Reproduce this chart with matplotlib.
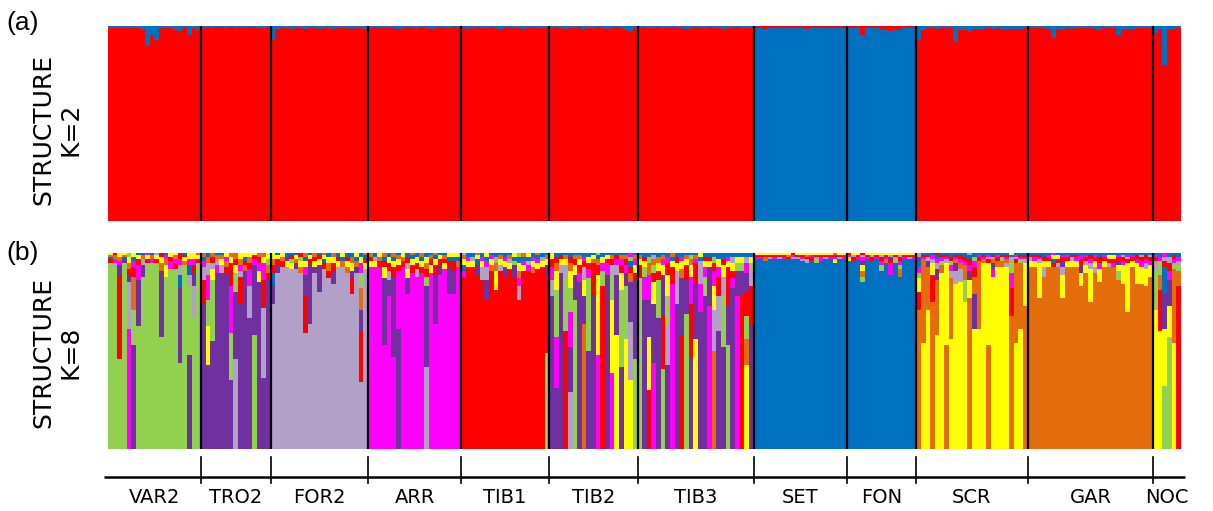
import re

from matplotlib import pyplot as plt
import numpy as np


# cluster codes for K=8 and their colours
CODES = "gplmrboy"
COLORS_K8 = {
    "g": "#92D050",
    "p": "#7030A0",
    "l": "#B1A0C7",
    "m": "#FF00FF",
    "r": "#FF0000",
    "b": "#0070C0",
    "o": "#E46C0A",
    "y": "#FFFF00",
}
RED = "#FF0000"
BLUE = "#0070C0"

POPS = ["VAR2", "TRO2", "FOR2", "ARR", "TIB1", "TIB2", "TIB3",
        "SET", "FON", "SCR", "GAR", "NOC"]

# K=2: share of the blue cluster per individual
k2_var2 = [0.01, 0.01, 0.01, 0.01, 0.01, 0.01, 0.01, 0.02, 0.105, 0.045,
           0.07, 0.01, 0.01, 0.01, 0.02, 0.025, 0.01, 0.045, 0.01, 0.02]
k2_tro2 = [0.01, 0.005, 0.01, 0.005, 0.005, 0.01, 0.005, 0.01, 0.005, 0.01,
           0.005, 0.005, 0.01, 0.01, 0.005]
k2_for2 = [0.07, 0.015, 0.01, 0.01, 0.015, 0.01, 0.01, 0.015, 0.01, 0.01,
           0.015, 0.01, 0.01, 0.015, 0.01, 0.01, 0.01, 0.015, 0.01, 0.01, 0.015]
k2_arr = [0.01, 0.005, 0.01, 0.01, 0.005, 0.01, 0.015, 0.01, 0.005, 0.01,
          0.01, 0.005, 0.01, 0.015, 0.01, 0.005, 0.01, 0.01, 0.005, 0.01]
k2_tib1 = [0.01, 0.015, 0.01, 0.005, 0.01, 0.01, 0.005, 0.01, 0.015, 0.01,
           0.005, 0.01, 0.01, 0.015, 0.01, 0.005, 0.01, 0.01, 0.01]
k2_tib2 = [0.01, 0.005, 0.01, 0.015, 0.01, 0.01, 0.005, 0.015, 0.01, 0.01,
           0.005, 0.01, 0.015, 0.01, 0.005, 0.01, 0.02, 0.03, 0.01]
k2_tib3 = [0.01, 0.005, 0.01, 0.01, 0.005, 0.01, 0.01, 0.005, 0.01, 0.01,
           0.015, 0.01, 0.005, 0.01, 0.01, 0.005, 0.01, 0.01, 0.015, 0.01,
           0.01, 0.005, 0.01, 0.01, 0.01]
k2_set = [0.99, 0.99, 0.985, 0.99, 0.99, 0.99, 0.99, 0.99, 0.99, 0.99,
          0.99, 0.985, 0.99, 0.99, 0.99, 0.99, 0.99, 0.99, 0.99, 0.99]
k2_fon = [0.99, 0.99, 0.99, 0.955, 0.99, 0.99, 0.99, 0.98, 0.98, 0.975,
          0.98, 0.98, 0.99, 0.99, 0.99]
k2_scr = [0.07, 0.02, 0.01, 0.01, 0.015, 0.01, 0.01, 0.01, 0.08, 0.02,
          0.02, 0.03, 0.015, 0.015, 0.015, 0.01, 0.015, 0.01, 0.02, 0.015,
          0.015, 0.015, 0.015, 0.01]
k2_gar = [0.01, 0.01, 0.01, 0.01, 0.015, 0.06, 0.015, 0.02, 0.01, 0.015,
          0.01, 0.01, 0.01, 0.01, 0.015, 0.02, 0.01, 0.01, 0.01, 0.045,
          0.02, 0.015, 0.015, 0.01, 0.01, 0.01, 0.01]
k2_noc = [0.035, 0.015, 0.2, 0.02, 0.015, 0.01]

# K=8: per individual, cluster code + percent
k8_var2 = [
    "g95 r2 o1 y1 b1", "g93 l2 m2 o2 r1", "g46 r43 p5 m2 o2 y2",
    "g95 p2 y1 o1 b1", "m61 l24 p4 y3 o3 r3 g2", "p53 g18 o17 r5 m3 y2 b2",
    "g63 p23 m8 r3 y2 b1", "g88 p6 l3 o2 b1", "g95 r2 y2 m1",
    "g95 m2 o2 b1", "g95 r2 y2 l1", "g57 p34 o4 y3 r2",
    "g88 y6 o3 m2 b1", "g92 m4 r2 y2", "g92 r3 m2 o2 y1",
    "g44 p38 b7 l5 r3 m3", "g94 y2 o2 r1 b1", "p48 g35 l6 b5 m3 y3",
    "g67 l16 p7 r4 m3 y3", "g95 r2 y2 o1",
]
k8_tro2 = [
    "p74 r12 l7 m3 o2 b2", "p43 y20 m13 g13 l6 o3 b2", "p55 g31 y6 l3 r3 o2",
    "p90 m4 l3 o2 b1", "p90 l4 y3 o2 b1", "p90 r3 o3 m2 y2",
    "p35 m24 g24 r12 y3 o2", "l46 p34 g10 y4 r3 o3", "p74 r14 o3 l3 y3 m3",
    "p91 o3 r2 y2 b2", "p67 l16 m9 r3 o3 y2", "g58 p36 m3 r2 y1",
    "p85 y6 m4 r3 o2", "p36 l36 r14 m9 y3 o2", "p86 o4 r4 y3 g3",
]
k8_for2 = [
    "l74 p9 b7 r4 o3 y3", "l90 p4 r3 y2 b1", "l93 r3 y2 o2",
    "l93 y3 p2 b2", "l92 y3 r2 g2 b1", "l92 p3 y2 o2 b1",
    "l90 o3 y3 r2 g2", "l59 r19 p11 m4 y3 o2 b2", "l64 p31 r2 y2 b1",
    "l90 p3 y3 r2 o2", "l80 p14 y3 r2 b1", "l92 r3 y2 b2 o1",
    "l87 o4 r4 y3 b2", "l84 p7 r4 y3 o2", "l93 y3 r2 b2",
    "l93 o3 y2 b2", "l90 o3 y3 r2 b2", "l79 r8 p4 y4 o3 b2",
    "l90 p3 o3 y2 b2", "l34 r26 p11 o11 g8 m5 y3 b2", "l92 y3 r2 b2 o1",
]
k8_arr = [
    "m93 y3 r2 o2", "m93 y3 l2 b2", "m93 r3 y2 o2",
    "m53 p34 y6 r3 o2 b2", "m78 p8 l5 r4 y3 b2", "m47 p41 r5 y3 o2 b2",
    "p61 m30 r3 y3 o2 b1", "m93 r3 y2 o2", "m79 p8 y5 l3 r3 b2",
    "m90 r4 y3 b2 o1", "m88 l4 r3 y3 b2", "m90 y3 r3 o2 b2",
    "l42 p41 g5 r4 y3 o3 b2", "m90 y4 r3 o2 b1", "m64 p25 r5 y3 b2 o1",
    "m89 p5 r3 y2 b1", "m92 y3 r2 o2 b1", "m79 p14 r3 y2 b2",
    "m79 p12 r5 y2 b2", "m93 o3 y2 b2",
]
k8_tib1 = [
    "r88 b3 m3 y3 o2 l1", "r93 y3 m2 b2", "r93 y3 l2 b2",
    "r89 p6 y2 b2 o1", "r86 l7 y3 m2 b2", "r76 p10 l7 m3 y2 b2",
    "r91 o3 y3 m2 b1", "r81 y10 o4 l3 b2", "r91 l3 y3 o2 b1",
    "r87 p6 y3 m2 b2", "r92 y3 l2 o2 b1", "r88 p6 g2 y2 b2",
    "r76 l7 o4 y4 m4 b3 g2", "r91 y3 m2 o2 b2", "r91 m3 y2 l2 b2",
    "r90 o3 y3 m2 b2", "r92 y3 m2 b2 o1", "r93 y3 l2 b2",
    "g49 r40 p5 y3 o2 b1",
]
k8_tib2 = [
    "p78 l8 m7 r4 y3", "p31 m26 g24 y10 o4 r3 b2", "p90 l4 y3 r2 b1",
    "r60 g27 l7 y3 o2 b1", "l29 p23 m18 g12 y9 o4 r3 b2", "g76 p13 y5 r3 o2 b1",
    "p85 m5 r4 y3 o2 b1", "o64 p14 y8 l7 r3 m2 b2", "p50 g37 m5 r3 y3 b2",
    "p78 r17 y2 o2 b1", "m48 y41 r5 o3 b2 g1", "r83 g8 m4 y3 b2",
    "p89 m6 y2 r2 b1", "m39 y37 g13 l5 r3 o2 b1", "y58 p31 l5 m3 r2 b1",
    "p42 g39 y9 r4 m3 o2 b1", "y56 g27 p7 m4 r3 o2 b1",
    "y35 l30 p20 o5 b3 r3 m2 g2", "g46 p40 y4 r4 m3 o2 b1",
]
k8_tib3 = [
    "g87 r7 y3 o2 b1", "p76 m12 g5 y3 r2 b2", "r30 y27 p19 m13 o6 g3 b2",
    "m44 p30 y11 r5 g4 o3 l2 b1", "p67 g19 r5 y4 o3 b2", "g41 r27 p21 y5 m3 o2 b1",
    "p43 l20 g15 y11 r6 m3 b2", "m84 r9 y3 o2 b2", "p74 l17 y4 r3 b2",
    "r58 p29 o5 y4 m2 b2", "g69 p17 r8 y3 o2 b1", "p47 r27 m14 y6 o3 g2 b1",
    "y56 p28 r11 o2 m2 b1", "p70 m14 l12 y2 b2", "p78 g10 m5 y3 r2 b2",
    "m73 p20 y3 r2 b2", "o50 l21 y12 m8 r4 g3 b2", "p60 l18 r10 m5 y4 b3",
    "p52 g26 l10 y6 r3 b3", "g53 r20 p20 y3 m2 b2", "p82 m5 y4 r4 l3 b2",
    "m78 p13 g4 y3 b2", "r78 p13 g4 y3 b2", "y43 o13 r12 g12 p10 m5 l3 b2",
    "p63 r20 l8 g4 y3 b2",
]
k8_set = [
    "b97 r1 y1 m1", "b97 m1 r1 y1", "b96 o2 r1 y1", "b97 r1 l1 y1",
    "b97 m1 y1 r1", "b97 r1 l1 y1", "b97 y1 r1 m1", "b97 r1 o1 y1",
    "b97 m1 r1 l1", "b97 r1 y1 l1", "b96 m1 r1 y1 l1", "b95 l2 o1 r1 y1",
    "b96 r2 m1 y1", "b95 g2 l1 r1 y1", "b96 m2 r1 y1", "b97 r1 y1 l1",
    "b97 y1 r1 m1", "b95 y2 o1 r1 m1", "b97 r1 l1 y1", "b97 r1 y1 m1",
]
k8_fon = [
    "b96 y2 r1 m1", "b96 r2 l1 y1", "b97 m1 r1 y1",
    "b85 y3 o3 g3 p2 m2 l1 r1", "b97 r1 y1 m1", "b96 r2 y1 l1",
    "b97 m1 r1 y1", "b91 g3 r2 m2 y1 l1", "b95 o2 r1 y1 m1",
    "b89 m6 r2 p1 y1 l1", "b95 g2 l1 r1 y1", "b88 o4 g2 m2 r2 y1 l1",
    "b97 r1 y1 m1", "b97 y1 r1 l1", "b97 r1 y1 m1",
]
k8_scr = [
    "o71 r9 y7 b3 g3 m3 l2 p2", "y54 o43 r1 m1 b1", "y71 o22 p3 l2 r1 b1",
    "o75 r14 y6 m2 l2 b1", "y58 o28 p6 l3 m2 b2 r1", "y90 o4 g2 m2 r1 b1",
    "o53 y42 l2 r1 b1 m1", "y56 o31 l4 m3 b2 r2 g2", "y84 l7 p4 o2 r1 m1 b1",
    "y85 l7 o3 r2 m2 b1", "y75 g11 o8 r2 m2 b2", "o77 y9 p5 m3 r3 b2 l1",
    "y61 p18 o9 r5 m3 g2 b2", "y61 o35 r2 m1 b1", "y95 o2 r1 m1 b1",
    "o53 y42 r2 m1 b1 l1", "y88 m4 p3 o2 r1 b1 l1", "y93 o3 r2 b1 m1",
    "y93 o3 g2 r1 b1", "y93 o2 l2 r1 m1 b1", "o68 r14 m8 g6 l2 b1 y1",
    "y54 o41 r2 m1 b1 l1", "y61 o34 g2 r1 m1 b1", "o73 y22 l2 r1 m1 b1",
]
k8_gar = [
    "o93 y3 l2 r1 b1", "o93 y3 m2 r1 b1", "o77 y18 l2 r1 m1 b1",
    "o88 l5 y3 r2 b2", "o93 y3 r2 m1 b1", "o93 b2 y2 r2 m1",
    "o93 r2 y2 l2 b1", "o77 y12 l4 p3 r2 m1 b1", "o93 y3 r2 m1 b1",
    "o93 y3 l2 r1 b1", "o93 y3 m2 r1 b1", "o83 y7 p4 r3 m2 b1",
    "o90 y4 r2 l2 m1 b1", "o75 y17 l3 r2 m2 b1", "o90 l3 y3 r2 m1 b1",
    "o85 y7 r3 m3 b2", "o93 y3 r2 m1 b1", "o93 y2 r2 l2 b1",
    "o93 r2 y2 m2 b1", "o86 g5 p2 y3 r2 m1 b1", "o84 y10 r2 m2 l1 b1",
    "o70 y25 r2 m1 l1 b1", "o93 y3 r2 m1 b1", "o84 y11 r2 m2 b1",
    "o84 y9 m3 r2 l1 b1", "o83 y9 l3 r2 m2 b1", "o88 y6 r2 m2 l1 b1",
]
k8_noc = [
    "y71 g20 l5 r2 b1 m1", "y60 r21 o8 g7 m2 b2", "g32 y29 p18 b14 r3 m2 l2",
    "g57 y16 p13 m5 r4 l3 b2", "y54 o38 g3 m2 r2 b1", "r83 o8 g3 l2 m2 b2",
]

K2_BY_POP = [k2_var2, k2_tro2, k2_for2, k2_arr, k2_tib1, k2_tib2, k2_tib3,
             k2_set, k2_fon, k2_scr, k2_gar, k2_noc]
K8_BY_POP = [k8_var2, k8_tro2, k8_for2, k8_arr, k8_tib1, k8_tib2, k8_tib3,
             k8_set, k8_fon, k8_scr, k8_gar, k8_noc]


def go(
    ):
    fig = plt.figure(figsize=(12.13, 5.11), dpi=100)
    sizes = [len(p) for p in K8_BY_POP]
    bounds = np.cumsum(sizes)
    n = bounds[-1]

    left, width = 108 / 1213, 1073 / 1213
    ax_a = fig.add_axes([left, 1 - 221 / 511, width, 195 / 511])
    ax_b = fig.add_axes([left, 1 - 449 / 511, width, 196 / 511])
    ax_c = fig.add_axes([left, 0, width, 62 / 511])

    _draw_k2(ax_a, n)
    _draw_k8(ax_b, n)
    for ax in (ax_a, ax_b):
        for b in bounds[:-1]:
            ax.axvline(b, color="black", lw=1.6)
        ax.set_xlim(0, n)
        ax.set_ylim(0, 1)
        ax.axis("off")

    _draw_labels(ax_c, bounds, n)

    fig.text(0.005, 1 - 23 / 511, "(a)", fontsize=19, va="center",
             family="Liberation Sans")
    fig.text(0.005, 1 - 253 / 511, "(b)", fontsize=19, va="center",
             family="Liberation Sans")
    fig.text(0.047, 1 - 129 / 511, "STRUCTURE\nK=2", rotation=90, fontsize=18,
             ha="center", va="center", multialignment="center")
    fig.text(0.047, 1 - 352 / 511, "STRUCTURE\nK=8", rotation=90, fontsize=18,
             ha="center", va="center", multialignment="center")

    fig.savefig("out.png", dpi=100)


def _draw_k2(
    ax,
    n
    ):
    blue = np.concatenate([np.array(p) for p in K2_BY_POP])
    red = 1 - blue
    x = np.arange(n) + 0.5
    # larger share at the bottom
    low = np.maximum(red, blue)
    low_col = [RED if r >= b else BLUE for r, b in zip(red, blue)]
    high_col = [BLUE if r >= b else RED for r, b in zip(red, blue)]
    ax.bar(x, low, width=1.0, color=low_col, linewidth=0)
    ax.bar(x, 1 - low, bottom=low, width=1.0, color=high_col, linewidth=0)


def _parse(
    s
    ):
    q = np.zeros(len(CODES))
    for code, val in re.findall(r"([a-z])(\d+)", s):
        q[CODES.index(code)] += float(val)
    return q / q.sum()


def _draw_k8(
    ax,
    n
    ):
    Q = np.array([_parse(s) for pop in K8_BY_POP for s in pop])
    order = np.argsort(-Q, axis=1, kind="stable")
    x = np.arange(n) + 0.5
    bottom = np.zeros(n)
    for rank in range(len(CODES)):
        idx = order[:, rank]
        vals = Q[np.arange(n), idx]
        cols = [COLORS_K8[CODES[i]] for i in idx]
        ax.bar(x, vals, bottom=bottom, width=1.0, color=cols, linewidth=0)
        bottom += vals


def _draw_labels(
    ax,
    bounds,
    n
    ):
    ax.set_xlim(0, n)
    ax.set_ylim(0, 62)
    ax.axis("off")
    ax.plot([-0.9, n + 0.9], [34, 34], color="black", lw=1.8,
            clip_on=False, solid_capstyle="butt")
    for b in bounds[:-1]:
        ax.plot([b, b], [28, 54], color="black", lw=1.2)
    starts = np.concatenate([[0], bounds[:-1]])
    for name, a, b in zip(POPS, starts, bounds):
        ax.text((a + b) / 2, 14, name, ha="center", va="center", fontsize=14)


go()
